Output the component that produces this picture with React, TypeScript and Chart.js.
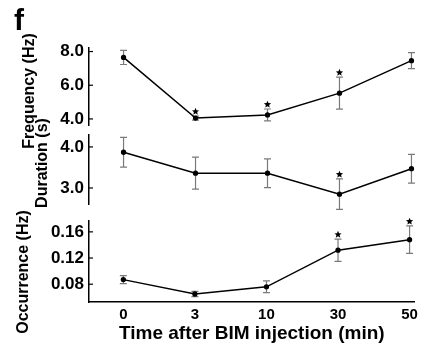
import React, { useEffect, useRef } from "react";
import { Chart, registerables } from "chart.js";

Chart.register(...registerables);

const timeLabels = ["0", "3", "10", "30", "50"];

const frequencyMean = [7.65, 4.05, 4.24, 5.53, 7.46];
const frequencyErr = [0.42, 0.12, 0.35, 0.95, 0.48];
const frequencySig = [false, true, true, true, false];
const frequencyTicks = [4, 6, 8];

const durationMean = [3.87, 3.36, 3.36, 2.85, 3.47];
const durationErr = [0.36, 0.39, 0.35, 0.37, 0.35];
const durationSig = [false, false, false, true, false];
const durationTicks = [3, 4];

const occurrenceMean = [0.087, 0.065, 0.076, 0.132, 0.148];
const occurrenceErr = [0.006, 0.004, 0.009, 0.017, 0.021];
const occurrenceSig = [false, false, false, true, true];
const occurrenceTicks = [0.08, 0.12, 0.16];

const FONT = "'Liberation Sans', Arial, sans-serif";
const W = 422;
const H = 347;

type Panel = {
  mean: number[];
  err: number[];
  sig: boolean[];
  ticks: number[];
  min: number;
  max: number;
  decimals: number;
  top: number;
  bottom: number;
  showX: boolean;
};

const overlayPlugin = {
  id: "overlay",
  beforeDatasetsDraw(chart: any, _a: any, opts: any) {
    const p: Panel = opts.panel;
    const ctx = chart.ctx;
    const xs = chart.scales.x;
    const ys = chart.scales.y;
    ctx.save();
    // inward ticks
    ctx.strokeStyle = "#000";
    ctx.lineWidth = 1.2;
    p.ticks.forEach((t) => {
      const y = ys.getPixelForValue(t);
      ctx.beginPath();
      ctx.moveTo(chart.chartArea.left, y);
      ctx.lineTo(chart.chartArea.left + 4, y);
      ctx.stroke();
    });
    // error bars
    ctx.strokeStyle = "#7a7a7a";
    ctx.lineWidth = 1.2;
    p.mean.forEach((m, i) => {
      const x = xs.getPixelForValue(i);
      const yt = ys.getPixelForValue(m + p.err[i]);
      const yb = ys.getPixelForValue(m - p.err[i]);
      ctx.beginPath();
      ctx.moveTo(x, yt);
      ctx.lineTo(x, yb);
      ctx.moveTo(x - 3.5, yt);
      ctx.lineTo(x + 3.5, yt);
      ctx.moveTo(x - 3.5, yb);
      ctx.lineTo(x + 3.5, yb);
      ctx.stroke();
    });
    ctx.restore();
  },
  afterDatasetsDraw(chart: any, _a: any, opts: any) {
    const p: Panel = opts.panel;
    const ctx = chart.ctx;
    const xs = chart.scales.x;
    const ys = chart.scales.y;
    ctx.save();
    ctx.fillStyle = "#000";
    p.mean.forEach((m, i) => {
      if (!p.sig[i]) return;
      const cx = xs.getPixelForValue(i);
      const cy = ys.getPixelForValue(m + p.err[i]) - 4.5;
      const ro = 3.8;
      const ri = 1.7;
      ctx.beginPath();
      for (let k = 0; k < 10; k++) {
        const r = k % 2 === 0 ? ro : ri;
        const a = -Math.PI / 2 + (k * Math.PI) / 5;
        const px = cx + r * Math.cos(a);
        const py = cy + r * Math.sin(a);
        if (k === 0) ctx.moveTo(px, py);
        else ctx.lineTo(px, py);
      }
      ctx.closePath();
      ctx.fill();
    });
    ctx.restore();
  },
};

const labelsPlugin = {
  id: "labels",
  afterDraw(chart: any, _a: any, opts: any) {
    if (!opts.enabled) return;
    const ctx = chart.ctx;
    ctx.save();
    ctx.fillStyle = "#000";
    ctx.textAlign = "center";
    ctx.textBaseline = "middle";
    ctx.font = `bold 30px ${FONT}`;
    ctx.fillText("f", 19, 22);
    const rot = (text: string, x: number, y: number) => {
      ctx.save();
      ctx.translate(x, y);
      ctx.rotate(-Math.PI / 2);
      ctx.font = `bold 16px ${FONT}`;
      ctx.fillText(text, 0, 0);
      ctx.restore();
    };
    rot("Frequency (Hz)", 30, 91);
    rot("Duration (s)", 43, 163);
    rot("Occurrence (Hz)", 24, 272);
    ctx.restore();
  },
};

function makeConfig(p: Panel): any {
  return {
    type: "line",
    data: {
      datasets: [
        {
          data: p.mean.map((y, i) => ({ x: i, y })),
          borderColor: "#000",
          borderWidth: 1.5,
          pointRadius: 1.9,
          pointBackgroundColor: "#000",
          pointBorderColor: "#000",
          tension: 0,
        },
      ],
    },
    options: {
      responsive: false,
      animation: false,
      devicePixelRatio: 1,
      layout: {
        padding: {
          top: p.top,
          left: 0,
          right: 2,
          bottom: p.showX ? 0 : H - p.bottom,
        },
      },
      plugins: {
        legend: { display: false },
        tooltip: { enabled: false },
        overlay: { panel: p },
        labels: { enabled: p.showX },
      },
      scales: {
        x: {
          type: "linear",
          display: p.showX,
          min: -0.48,
          max: 4.07,
          grid: { display: false, drawTicks: false },
          border: { display: true, color: "#000", width: 1.5 },
          afterBuildTicks: (s: any) => {
            s.ticks = timeLabels.map((_, i) => ({ value: i }));
          },
          afterFit: (s: any) => {
            s.height = p.showX ? H - p.bottom : 0;
          },
          ticks: {
            color: "#000",
            font: { family: FONT, size: 15, weight: "bold" },
            padding: 4,
            maxRotation: 0,
            autoSkip: false,
            callback: (v: any) => timeLabels[v] ?? "",
          },
          title: {
            display: true,
            text: "Time after BIM injection (min)",
            color: "#000",
            font: { family: FONT, size: 19, weight: "bold" },
            padding: { top: 0, bottom: 2 },
          },
        },
        y: {
          type: "linear",
          min: p.min,
          max: p.max,
          grid: { display: false, drawTicks: false },
          border: { display: true, color: "#000", width: 1.5 },
          afterBuildTicks: (s: any) => {
            s.ticks = p.ticks.map((v) => ({ value: v }));
          },
          afterFit: (s: any) => {
            s.width = 89;
          },
          ticks: {
            color: "#000",
            font: { family: FONT, size: 17, weight: "bold" },
            padding: 5,
            callback: (v: any) => Number(v).toFixed(p.decimals),
          },
        },
      },
    },
    plugins: [overlayPlugin, labelsPlugin],
  };
}

const panels: Panel[] = [
  {
    mean: frequencyMean,
    err: frequencyErr,
    sig: frequencySig,
    ticks: frequencyTicks,
    min: 3.64,
    max: 8.21,
    decimals: 1,
    top: 48,
    bottom: 125,
    showX: false,
  },
  {
    mean: durationMean,
    err: durationErr,
    sig: durationSig,
    ticks: durationTicks,
    min: 2.61,
    max: 4.29,
    decimals: 1,
    top: 135,
    bottom: 204,
    showX: false,
  },
  {
    mean: occurrenceMean,
    err: occurrenceErr,
    sig: occurrenceSig,
    ticks: occurrenceTicks,
    min: 0.0528,
    max: 0.1766,
    decimals: 2,
    top: 221,
    bottom: 302,
    showX: true,
  },
];

export default function App() {
  const r0 = useRef<HTMLCanvasElement>(null);
  const r1 = useRef<HTMLCanvasElement>(null);
  const r2 = useRef<HTMLCanvasElement>(null);

  useEffect(() => {
    const refs = [r0, r1, r2];
    const charts = panels.map((p, i) => new Chart(refs[i].current as HTMLCanvasElement, makeConfig(p)));
    return () => charts.forEach((c) => c.destroy());
  }, []);

  const cs: React.CSSProperties = { position: "absolute", left: 0, top: 0, width: W, height: H };
  return (
    <div style={{ position: "fixed", left: 0, top: 0, width: W, height: H, background: "#fff" }}>
      <canvas ref={r0} width={W} height={H} style={cs} />
      <canvas ref={r1} width={W} height={H} style={cs} />
      <canvas ref={r2} width={W} height={H} style={cs} />
    </div>
  );
}
